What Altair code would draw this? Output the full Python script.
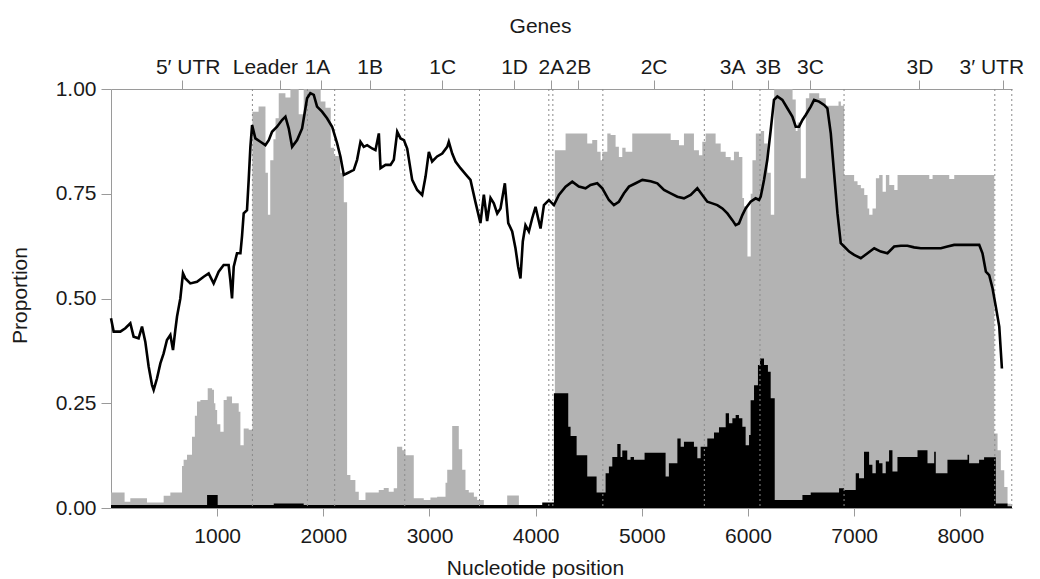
import altair as alt
import pandas as pd

# ---------------- data ----------------
grey_pos = [0,128,182,339,496,559,669,684,716,763,790,810,842,911,952,970,983,1000,1030,1061,1090,1140,1203,1219,1250,1297,
            1332,1390,1455,1478,1500,1530,1550,1580,1643,1690,1768,1815,1975,2020,2070,2100,2160,2193,
            2224,2255,2302,2334,2397,2522,2569,2616,2663,2695,2743,2774,2852,2946,3009,3072,3151,3167,3214,3276,3308,3339,3370,3418,3449,3512,3732,3842,
            4181,4282,4486,4533,4580,4612,4628,4675,4706,4753,4784,4816,4847,4910,5272,5350,5397,5491,5538,5570,5601,5695,5743,5790,5837,5868,5915,
            5947,5963,5995,6026,6042,6074,6121,6152,6184,6215,6247,6420,6450,6467,6498,6545,6577,6671,6733,6853,6875,
            6906,7000,7032,7063,7095,7126,7142,7173,7205,7236,7268,7299,7331,7378,7409,7708,7739,7896,7943,
            8320,8351,8382,8414,8445,8476,8487]
grey_val = [0.037,0.015,0.023,0.013,0.029,0.037,0.10,0.115,0.127,0.17,0.22,0.254,0.258,0.286,0.282,0.25,0.234,0.2,0.182,0.258,0.266,0.25,0.23,0.15,0.19,0.187,
            0.946,0.958,0.80,0.70,0.83,0.88,0.93,0.99,0.98,1.0,0.94,1.0,0.97,0.955,0.86,0.84,0.80,0.73,
            0.079,0.067,0.039,0.019,0.037,0.043,0.048,0.039,0.047,0.146,0.138,0.126,0.023,0.019,0.025,0.027,0.06,0.091,0.196,0.14,0.091,0.043,0.037,0.027,0.019,0.0,0.03,0.0,
            0.854,0.894,0.87,0.878,0.85,0.83,0.85,0.894,0.89,0.862,0.838,0.86,0.85,0.894,0.878,0.866,0.894,0.854,0.842,0.874,0.894,0.870,0.850,0.838,0.830,0.850,0.838,
            0.74,0.72,0.60,0.75,0.83,0.894,0.90,0.87,0.80,0.70,1.0,0.975,0.90,0.92,0.787,0.978,0.99,0.978,0.96,0.97,0.96,
            0.795,0.78,0.771,0.763,0.747,0.715,0.70,0.715,0.787,0.795,0.755,0.795,0.771,0.759,0.795,0.785,0.795,0.785,0.795,
            0.178,0.138,0.09,0.05,0.01,0.0,0.0]

black_pos = [0,905,1005,1533,1815,4062,4172,4307,4329,4386,4486,4574,4659,4690,4722,4769,4800,4816,4863,4894,4926,5026,5224,5255,
             5335,5366,5397,5491,5523,5554,5617,5680,5727,5790,5821,5853,5884,5915,5947,5978,6010,6025,6057,6094,6113,6151,6188,6214,
             6252,6513,6591,6858,6905,7015,7046,7093,7141,7172,7204,7235,7267,7298,7329,7361,7408,7597,7691,7754,7769,7879,8068,8083,
             8177,8224,8335,8445,8487]
black_val = [0.007,0.031,0.007,0.011,0.007,0.013,0.274,0.194,0.172,0.126,0.075,0.037,0.083,0.099,0.122,0.153,0.122,0.137,0.115,0.122,0.115,0.132,0.075,0.107,
             0.166,0.146,0.158,0.146,0.119,0.146,0.166,0.180,0.193,0.226,0.202,0.214,0.222,0.214,0.194,0.150,0.174,0.257,0.293,0.341,0.357,0.341,0.325,0.262,
             0.019,0.031,0.037,0.047,0.043,0.083,0.071,0.134,0.103,0.083,0.114,0.107,0.083,0.111,0.138,0.087,0.122,0.138,0.107,0.134,0.083,0.115,0.127,0.107,
             0.115,0.121,0.011,0.004,0.004]

line_pos = [0,25,88,135,182,213,260,292,323,355,386,402,433,465,496,527,559,584,606,622,653,678,700,747,810,873,920,967,1014,1061,1108,1124,1140,1156,
            1187,1219,1234,1250,1281,1297,1313,1329,1360,1407,1454,1486,1517,1564,1611,1643,1674,1706,1753,1800,1847,1878,1910,1941,1988,2035,2083,2130,
            2161,2193,2224,2255,2287,2318,2350,2381,2413,2460,2491,2523,2539,2586,2633,2664,2696,2727,2759,2790,2837,2884,2931,2963,2994,3025,3072,3120,
            3167,3182,3214,3245,3292,3339,3386,3433,3480,3512,3543,3575,3606,3638,3669,3710,3742,3779,3810,3835,3857,3879,3904,3936,3967,3999,4024,4046,
            4078,4125,4172,4219,4282,4345,4407,4470,4517,4580,4628,4690,4737,4784,4832,4879,4942,5005,5083,5146,5209,5272,5335,5397,5460,5523,5570,5617,
            5664,5711,5759,5806,5853,5884,5915,5947,5978,6025,6072,6104,6120,6151,6182,6214,6245,6277,6324,6371,6418,6450,6481,6513,6544,6591,6623,6670,
            6717,6748,6780,6811,6843,6874,6906,6953,7000,7063,7126,7189,7251,7314,7377,7440,7502,7565,7628,7691,7754,7817,7879,7942,8005,8068,8131,8178,
            8209,8241,8272,8304,8335,8367,8392]
line_val = [0.453,0.421,0.421,0.429,0.441,0.409,0.405,0.433,0.397,0.337,0.294,0.282,0.309,0.345,0.369,0.401,0.413,0.377,0.425,0.457,0.500,0.56,0.548,0.536,0.540,0.552,0.56,0.536,0.564,0.58,0.58,0.544,0.50,0.576,
            0.608,0.608,0.648,0.703,0.711,0.783,0.862,0.914,0.882,0.874,0.866,0.878,0.898,0.910,0.926,0.934,0.906,0.862,0.878,0.906,0.978,0.990,0.986,0.958,0.946,0.930,0.910,0.870,
            0.839,0.795,0.799,0.803,0.807,0.831,0.874,0.862,0.866,0.858,0.854,0.894,0.811,0.819,0.819,0.831,0.898,0.882,0.878,0.858,0.783,0.759,0.747,0.791,0.850,0.827,0.839,0.846,
            0.862,0.874,0.846,0.827,0.811,0.797,0.783,0.73,0.68,0.748,0.685,0.74,0.727,0.703,0.715,0.775,0.68,0.66,0.62,0.576,0.548,0.636,0.675,0.660,0.691,0.719,0.691,0.667,
            0.723,0.735,0.723,0.747,0.767,0.779,0.767,0.763,0.771,0.775,0.763,0.735,0.723,0.731,0.751,0.767,0.775,0.783,0.780,0.775,0.759,0.751,0.743,0.739,0.747,0.763,0.747,0.731,
            0.727,0.723,0.715,0.703,0.687,0.675,0.679,0.699,0.715,0.731,0.739,0.735,0.743,0.783,0.831,0.902,0.974,0.982,0.974,0.954,0.934,0.910,0.910,0.926,0.938,0.958,0.974,0.970,
            0.962,0.954,0.894,0.799,0.703,0.632,0.624,0.612,0.604,0.596,0.608,0.620,0.612,0.608,0.624,0.626,0.626,0.622,0.620,0.620,0.620,0.620,0.624,0.628,0.628,0.628,0.628,0.628,
            0.608,0.564,0.556,0.524,0.480,0.433,0.333]

gene_names = ["5\u2032 UTR", "Leader", "1A", "1B", "1C", "1D", "2A", "2B", "2C", "3A", "3B", "3C", "3D", "3\u2032 UTR"]
gene_mid = [666, 1591, 1978, 2437, 3119, 3797, 4143, 4397, 5111, 5851, 6188, 6584, 7615, 8405]
gene_label_shift = [6, -15, -4, 0, 0, 0, 0, 0, 0, 0, 0, 0, 0, -12]
gene_bounds = [1332, 1850, 2107, 2767, 3471, 4124, 4162, 4633, 5589, 6113, 6905, 8325, 8485]
x_ticks = [1000, 2000, 3000, 4000, 5000, 6000, 7000, 8000]
y_ticks = [0.0, 0.25, 0.5, 0.75, 1.0]

# ---------------- chart ----------------
XMAX = 8487
FONT = "Liberation Sans"
FS = 21
TXT = "#1a1a1a"
AX = "#9a9a9a"

xscale = alt.Scale(domain=[0, XMAX], nice=False, zero=False)
yscale = alt.Scale(domain=[0, 1], nice=False, zero=False)

grey_df = pd.DataFrame({"pos": grey_pos, "val": grey_val})
black_df = pd.DataFrame({"pos": black_pos, "val": black_val})
line_df = pd.DataFrame({"pos": line_pos, "val": line_val})
genes_df = pd.DataFrame({"gene": gene_names, "mid": gene_mid})
bounds_df = pd.DataFrame({"b": gene_bounds})

label_expr = " : ".join(f"datum.value == {m} ? '{n}'" for m, n in zip(gene_mid, gene_names)) + " : ''"
offset_cond = {
    "condition": [{"test": f"datum.value == {m}", "value": s}
                  for m, s in zip(gene_mid, gene_label_shift) if s != 0],
    "value": 0,
}

x_axis = alt.Axis(orient="bottom", values=x_ticks, format="d", title="Nucleotide position",
                  tickSize=8, labelPadding=26, labelBaseline="alphabetic",
                  titleX=424, titleY=66, titleBaseline="alphabetic", titleAlign="center",
                  labelOverlap=False)
y_axis = alt.Axis(values=y_ticks, format=".2f", title="Proportion", tickSize=10, labelPadding=5,
                  titleX=-85, titleY=206, titleAngle=270, titleBaseline="alphabetic", titleAlign="center")
top_axis = alt.Axis(orient="top", values=gene_mid, labelExpr=label_expr, title="Genes",
                    tickSize=9, labelPadding=7, labelBaseline="alphabetic", labelOverlap=False,
                    labelBound=False, labelFlush=False, labelOffset=offset_cond,
                    titleX=429, titleY=-57, titleBaseline="alphabetic", titleAlign="center")

grey = alt.Chart(grey_df).mark_area(interpolate="step-after", color="#b3b3b3").encode(
    x=alt.X("pos:Q", scale=xscale, axis=x_axis),
    y=alt.Y("val:Q", scale=yscale, axis=y_axis),
)
black = alt.Chart(black_df).mark_area(interpolate="step-after", color="#000000").encode(
    x=alt.X("pos:Q", scale=xscale, axis=None),
    y=alt.Y("val:Q", scale=yscale, axis=None),
)
rules = alt.Chart(bounds_df).mark_rule(color="#8a8a8a", strokeDash=[2, 3], strokeWidth=1).encode(
    x=alt.X("b:Q", scale=xscale, axis=None),
)
line = alt.Chart(line_df).mark_line(color="#000000", strokeWidth=2.6, interpolate="linear").encode(
    x=alt.X("pos:Q", scale=xscale, axis=None),
    y=alt.Y("val:Q", scale=yscale, axis=None),
)
genes = alt.Chart(genes_df).mark_point(opacity=0).encode(
    x=alt.X("mid:Q", scale=xscale, axis=top_axis),
)

chart = alt.layer(grey, black, rules, line, genes).resolve_axis(
    x="independent", y="independent"
).properties(
    width=901, height=419,
    autosize=alt.AutoSizeParams(type="none"),
    padding={"left": 103, "top": 81, "right": 20, "bottom": 70},
).configure_axis(
    labelFont=FONT, titleFont=FONT, labelFontSize=FS, titleFontSize=FS,
    labelColor=TXT, titleColor=TXT, titleFontWeight="normal",
    domainColor=AX, tickColor=AX, grid=False,
).configure_view(stroke=None)

chart.save("out.html", embed_options={"renderer": "svg", "actions": False})
